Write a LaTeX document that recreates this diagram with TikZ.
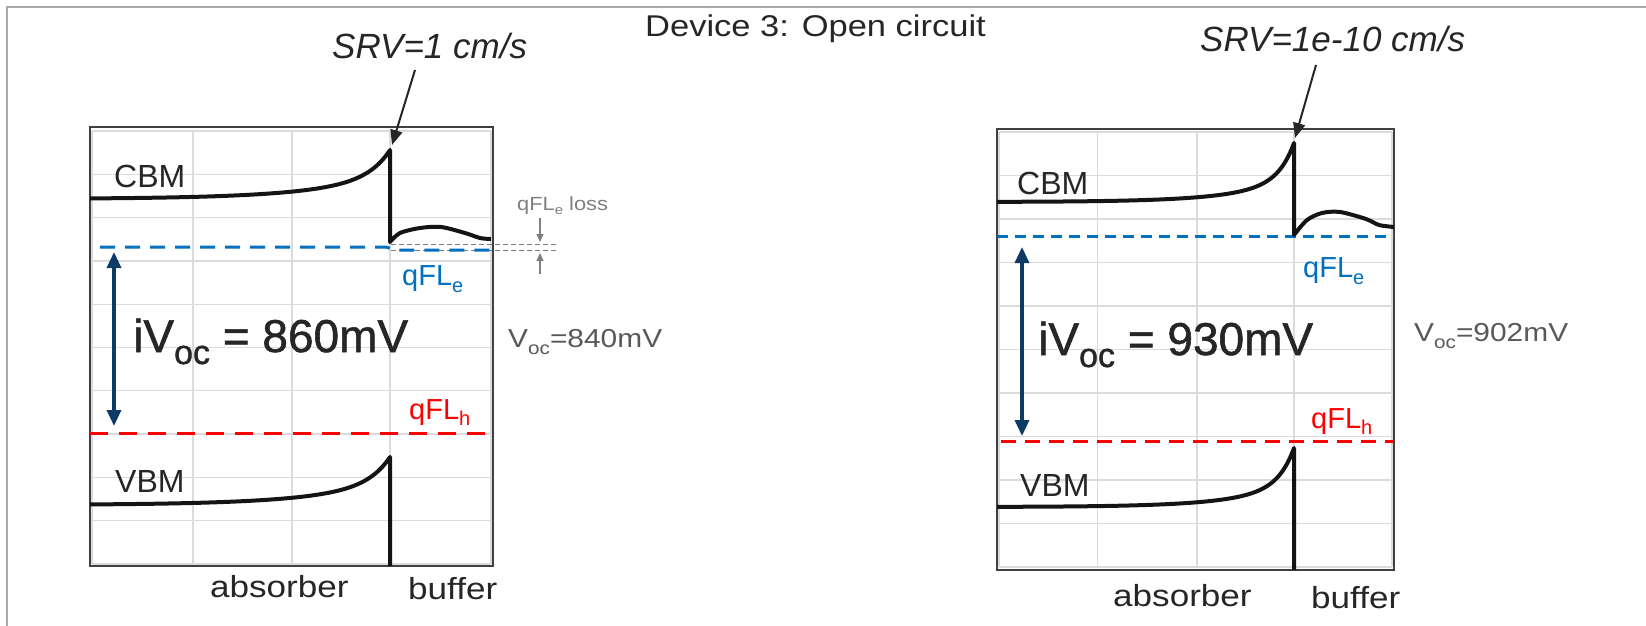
\documentclass[tikz,border=0pt]{standalone}
\usepackage{fontspec}
\setmainfont{Liberation Sans}
\newfontfamily\widefont[FakeStretch=1.15]{Liberation Sans}
\newfontfamily\medfont[FakeBold=1.2]{Liberation Sans}
\usetikzlibrary{arrows.meta}
\newcommand{\mysub}[3]{\raisebox{-#2pt}{\fontsize{#1}{#1}\selectfont #3}}
\definecolor{txt}{RGB}{38,38,38}
\definecolor{gridgray}{RGB}{219,219,219}
\definecolor{frm}{RGB}{64,64,64}
\definecolor{qblue}{RGB}{0,112,192}
\definecolor{qred}{RGB}{255,0,0}
\definecolor{navy}{RGB}{14,58,102}
\definecolor{vocgray}{RGB}{89,89,89}
\definecolor{lossgray}{RGB}{128,128,128}
\definecolor{bordergray}{RGB}{170,170,170}
\tikzset{
  gridline/.style={draw=gridgray, line width=1.3pt},
  framebox/.style={draw=frm, line width=1.6pt},
  band/.style={draw=black!92, line width=4pt, line join=round},
  qe/.style={draw=qblue, line width=3pt},
  qh/.style={draw=qred, line width=3pt},
  lossline/.style={draw=lossgray, line width=1pt, dash pattern=on 5pt off 3pt},
  srvarrow/.style={draw=txt, line width=2pt, -{Triangle[width=12pt,length=15pt]}},
  vocarrow/.style={draw=navy, line width=3.3pt, {Triangle[width=14pt,length=16pt]}-{Triangle[width=14pt,length=16pt]}},
  lossarrow/.style={draw=lossgray, line width=1.5pt, -{Triangle[width=7pt,length=8pt]}},
  lbl/.style={inner sep=0pt, anchor=base west, text=txt},
}
\begin{document}
\begin{tikzpicture}[x=1pt,y=-1pt]
\useasboundingbox (0,0) rectangle (1646,626);
\fill[white] (0,0) rectangle (1646,626);
% outer border
\draw[draw=bordergray, line width=1.5pt] (7,626) -- (7,7) -- (1646,7);

% ---------- left panel grid and frame
\foreach \k in {0,...,10} \draw[gridline] (92,{131+43.3*\k}) -- (491,{131+43.3*\k});
\foreach \xx in {92,193,292,390,491} \draw[gridline] (\xx,131) -- (\xx,564);
\draw[framebox] (90,127) rectangle (493,566);

% ---------- right panel grid and frame
\foreach \k in {0,...,10} \draw[gridline] (999,{132+43.5*\k}) -- (1392,{132+43.5*\k});
\foreach \xx in {999,1097.5,1197,1294,1392} \draw[gridline] (\xx,132) -- (\xx,567);
\draw[framebox] (997,129) rectangle (1394,570);

% ---------- quasi Fermi levels
\draw[lossline] (391,244) -- (557,244);
\draw[lossline] (391,250) -- (557,250);
\draw[qe, dash pattern=on 15pt off 10pt] (100,247) -- (385,247) to[out=0,in=180] (395,250) -- (491,250);
\draw[qh, dash pattern=on 18pt off 11pt] (90,433) -- (491,433);
\draw[qe, dash pattern=on 11pt off 7pt] (997,236) -- (1394,236);
\draw[qh, dash pattern=on 15pt off 9pt] (1001,441) -- (1393,441);

% ---------- bands left
\draw[band] plot[domain=1:0, samples=120] ({390-300*\x*\x},{199-49*(0.5*exp(-15*\x*\x)+0.5*exp(-3.75*\x*\x))})
  -- plot[smooth] coordinates {(390,242) (400,233) (420,228) (441,227) (465,233) (480,238) (491,239)};
\draw[band] plot[domain=1:0, samples=120] ({390-300*\x*\x},{505-48*(0.5*exp(-15*\x*\x)+0.5*exp(-3.75*\x*\x))})
  -- (390,566);
% ---------- bands right
\draw[band] plot[domain=1:0, samples=120] ({1294-297*\x*\x},{202-59*(0.6*exp(-19.8*\x*\x)+0.4*exp(-4.95*\x*\x))})
  -- plot[smooth] coordinates {(1294,235) (1307,220) (1322,213) (1340,212) (1366,219) (1379,225) (1394,227)};
\draw[band] plot[domain=1:0, samples=120] ({1294-297*\x*\x},{507-59*(0.6*exp(-19.8*\x*\x)+0.4*exp(-4.95*\x*\x))})
  -- (1294,570);

% ---------- texts
\node[lbl, font={\widefont\fontsize{30}{36}\selectfont}] (title) at (645,37) {Device 3: Open circuit};
\node[lbl, font={\itshape\fontsize{35}{42}\selectfont}] (srvL) at (332,59) {SRV=1 cm/s};
\node[lbl, font={\itshape\fontsize{35}{42}\selectfont}] (srvR) at (1200,52) {SRV=1e-10 cm/s};

\node[lbl, font={\fontsize{32}{38}\selectfont}] (cbmL) at (114,187) {CBM};
\node[lbl, font={\fontsize{32}{38}\selectfont}] (vbmL) at (115,492) {VBM};
\node[lbl, font={\fontsize{32}{38}\selectfont}] (cbmR) at (1017,194) {CBM};
\node[lbl, font={\fontsize{32}{38}\selectfont}] (vbmR) at (1020,496) {VBM};

\node[lbl, font={\medfont\fontsize{46}{54}\selectfont}] (ivocL) at (133,352) {iV\mysub{34}{12}{oc} = 860mV};
\node[lbl, font={\medfont\fontsize{46}{54}\selectfont}] (ivocR) at (1038,355) {iV\mysub{34}{12}{oc} = 930mV};

\node[lbl, text=vocgray, font={\widefont\fontsize{26}{31}\selectfont}] (vocL) at (508,347) {V\mysub{18}{7}{oc}=840mV};
\node[lbl, text=vocgray, font={\widefont\fontsize{26}{31}\selectfont}] (vocR) at (1414,341) {V\mysub{18}{7}{oc}=902mV};

\node[lbl, text=qblue, font={\fontsize{29}{34}\selectfont}] (qfeL) at (402,285) {qFL\mysub{20}{7}{e}};
\node[lbl, text=qblue, font={\fontsize{29}{34}\selectfont}] (qfeR) at (1303,277) {qFL\mysub{20}{7}{e}};
\node[lbl, text=qred, font={\fontsize{29}{34}\selectfont}] (qfhL) at (409,419) {qFL\mysub{20}{6}{h}};
\node[lbl, text=qred, font={\fontsize{29}{34}\selectfont}] (qfhR) at (1311,428) {qFL\mysub{20}{6}{h}};

\node[lbl, text=lossgray, font={\widefont\fontsize{19}{23}\selectfont}] (loss) at (517,210) {qFL\mysub{13}{4}{e} loss};

\node[lbl, font={\widefont\fontsize{30.5}{36}\selectfont}] (absL) at (210,597) {absorber};
\node[lbl, font={\widefont\fontsize{30.5}{36}\selectfont}] (bufL) at (408,599) {buffer};
\node[lbl, font={\widefont\fontsize{30.5}{36}\selectfont}] (absR) at (1113,606) {absorber};
\node[lbl, font={\widefont\fontsize{30.5}{36}\selectfont}] (bufR) at (1311,608) {buffer};

% ---------- arrows
\coordinate (srvLtail) at (415,70);
\coordinate (srvLtip) at (392,145);
\coordinate (srvRtail) at (1316,65);
\coordinate (srvRtip) at (1295,138);
\draw[srvarrow] (srvLtail) -- (srvLtip);
\draw[srvarrow] (srvRtail) -- (srvRtip);

\coordinate (eL) at (114,252);
\coordinate (hL) at (114,426);
\coordinate (eR) at (1022,247);
\coordinate (hR) at (1022,436);
\draw[vocarrow] (eL) -- (hL);
\draw[vocarrow] (eR) -- (hR);

\coordinate (lossTopTail) at (540,218);
\coordinate (lossTopTip) at (540,242);
\coordinate (lossBotTail) at (540,274);
\coordinate (lossBotTip) at (540,253);
\draw[lossarrow] (lossTopTail) -- (lossTopTip);
\draw[lossarrow] (lossBotTail) -- (lossBotTip);
\end{tikzpicture}
\end{document}
